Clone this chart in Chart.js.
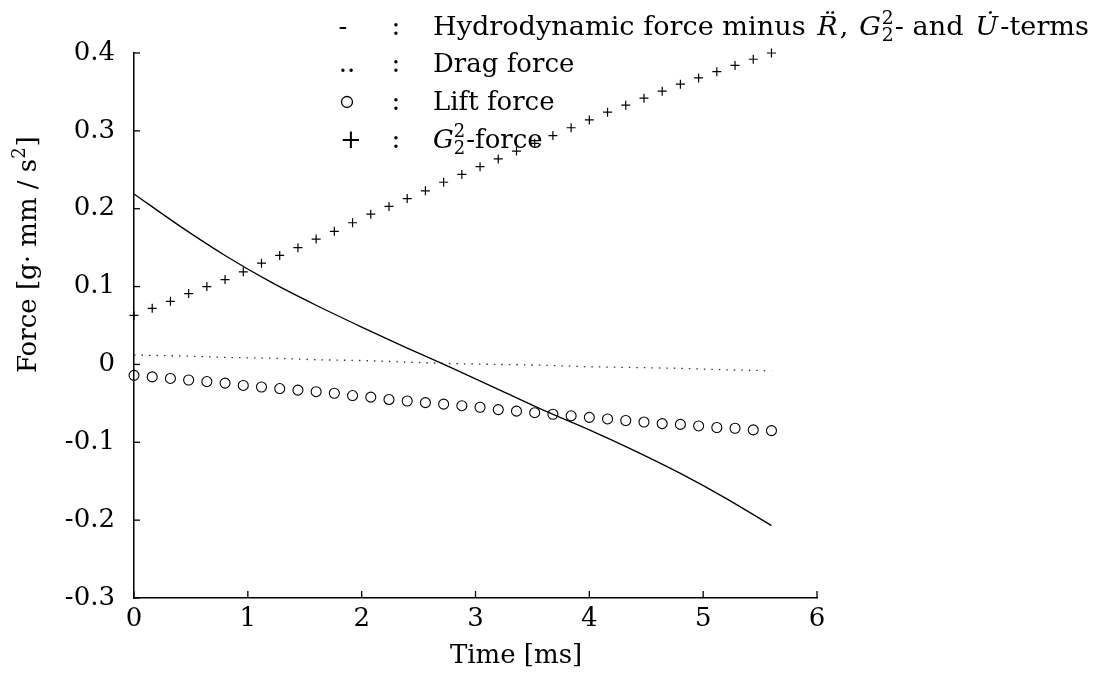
<!DOCTYPE html>
<html>
<head>
<meta charset="utf-8">
<script src="https://cdn.jsdelivr.net/npm/chart.js@4.4.1/dist/chart.umd.min.js"></script>
<style>
  body { margin: 0; background: #fff; }
  canvas { display: block; }
</style>
</head>
<body>
<canvas id="forceChart" width="1094" height="675"></canvas>
<script>
// time values of the marker series [ms]
const markerTime = [0, 0.16, 0.32, 0.48, 0.64, 0.8, 0.96, 1.12, 1.28, 1.44, 1.6, 1.76,
  1.92, 2.08, 2.24, 2.4, 2.56, 2.72, 2.88, 3.04, 3.2, 3.36, 3.52, 3.68,
  3.84, 4.0, 4.16, 4.32, 4.48, 4.64, 4.8, 4.96, 5.12, 5.28, 5.44, 5.6];

// lift force (circles)
const liftForce = [-0.014, -0.016, -0.018, -0.020, -0.022, -0.024, -0.027, -0.029, -0.031, -0.033, -0.035, -0.037,
  -0.040, -0.042, -0.045, -0.047, -0.049, -0.051, -0.053, -0.055, -0.058, -0.060, -0.062, -0.064,
  -0.066, -0.068, -0.070, -0.072, -0.074, -0.076, -0.077, -0.079, -0.081, -0.082, -0.084, -0.085];

// G2^2-force (plus signs)
const g22Force = [0.063, 0.072, 0.081, 0.091, 0.100, 0.109, 0.119, 0.130, 0.140, 0.150, 0.161, 0.171,
  0.182, 0.193, 0.203, 0.213, 0.223, 0.234, 0.244, 0.254, 0.264, 0.274, 0.284, 0.294,
  0.304, 0.314, 0.324, 0.333, 0.342, 0.351, 0.360, 0.368, 0.376, 0.384, 0.392, 0.400];

// time values of the two curves [ms]
const lineTime = [0, 0.4, 0.8, 1.2, 1.6, 2.0, 2.4, 2.8, 3.2, 3.6, 4.0, 4.4, 4.8, 5.2, 5.6];

// hydrodynamic force minus R, G2^2 and U terms (solid)
const hydroForce = [0.219, 0.178, 0.140, 0.106, 0.076, 0.048, 0.021, -0.005, -0.032, -0.059, -0.084, -0.111, -0.140, -0.172, -0.207];

// drag force (dotted)
const dragForce = [0.012, 0.011, 0.009, 0.008, 0.006, 0.005, 0.003, 0.001, 0.000, -0.001, -0.003, -0.004, -0.005, -0.007, -0.008];

const xTickValues = [0, 1, 2, 3, 4, 5, 6];
const xTickLabels = ["0", "1", "2", "3", "4", "5", "6"];
const yTickValues = [-0.3, -0.2, -0.1, 0, 0.1, 0.2, 0.3, 0.4];
const yTickLabels = ["-0.3", "-0.2", "-0.1", "0", "0.1", "0.2", "0.3", "0.4"];

const serif = "'DejaVu Serif', 'Liberation Serif', serif";

function toPoints(xs, ys) {
  return xs.map((x, i) => ({ x: x, y: ys[i] }));
}

// draws a row of text pieces, each with its own font; returns the end x
function drawRuns(ctx, x, y, runs, measureOnly) {
  runs.forEach((r) => {
    if (r.stack) {
      ctx.font = "18px " + serif;
      if (!measureOnly) {
        ctx.fillText(r.stack[0], x, y - 11);
        ctx.fillText(r.stack[1], x, y + 6);
      }
      x += ctx.measureText(r.stack[0]).width + 1;
    } else {
      ctx.font = (r.italic ? "italic " : "") + "26px " + serif;
      if (!measureOnly) ctx.fillText(r.text, x, y);
      x += ctx.measureText(r.text).width + (r.gap || 0);
    }
  });
  return x;
}

const extrasPlugin = {
  id: "extras",
  afterDraw(chart) {
    const ctx = chart.ctx;
    const xs = chart.scales.x;
    const ys = chart.scales.y;
    const area = chart.chartArea;
    ctx.save();
    ctx.strokeStyle = "#000";
    ctx.lineWidth = 1.3;
    // inward tick marks
    xTickValues.forEach((v) => {
      const px = xs.getPixelForValue(v);
      ctx.beginPath();
      ctx.moveTo(px, area.bottom);
      ctx.lineTo(px, area.bottom - 7);
      ctx.stroke();
    });
    yTickValues.forEach((v) => {
      const py = ys.getPixelForValue(v);
      ctx.beginPath();
      ctx.moveTo(area.left, py);
      ctx.lineTo(area.left + 6, py);
      ctx.stroke();
    });

    ctx.fillStyle = "#000";
    ctx.textBaseline = "alphabetic";

    // axis titles
    ctx.font = "26px " + serif;
    ctx.textAlign = "center";
    ctx.fillText("Time [ms]", 516, 663);
    ctx.save();
    ctx.translate(36, 373);
    ctx.rotate(-Math.PI / 2);
    ctx.textAlign = "left";
    drawRuns(ctx, 0, 0, [
      { text: "Force [g\u00B7 mm / s" },
      { stack: ["2", ""] },
      { text: "]" }
    ]);
    ctx.restore();

    // legend
    ctx.textAlign = "center";
    ctx.font = "26px " + serif;
    ctx.fillText("-", 343, 35);
    ctx.fillText("..", 347, 72);
    ctx.fillText("+", 351, 148);
    ctx.beginPath();
    ctx.lineWidth = 1.3;
    ctx.arc(347, 102, 5.5, 0, Math.PI * 2);
    ctx.stroke();
    [35, 72, 110, 148].forEach((y) => ctx.fillText(":", 396, y));

    ctx.textAlign = "left";
    const firstRow = [
      { text: "Hydrodynamic force minus ", gap: 3 },
      { text: "R\u0308", italic: true, gap: 2 },
      { text: ", ", gap: 2 },
      { text: "G", italic: true, gap: 1 },
      { stack: ["2", "2"] },
      { text: "- and ", gap: 3 },
      { text: "U\u0307", italic: true, gap: 2 },
      { text: "-terms" }
    ];
    // stretch the first row slightly so it spans like the original
    const rowWidth = drawRuns(ctx, 0, 0, firstRow, true);
    ctx.save();
    ctx.translate(433, 35);
    ctx.scale((1089 - 433) / rowWidth, 1);
    drawRuns(ctx, 0, 0, firstRow);
    ctx.restore();
    drawRuns(ctx, 433, 72, [{ text: "Drag force" }]);
    drawRuns(ctx, 433, 110, [{ text: "Lift force" }]);
    drawRuns(ctx, 433, 148, [
      { text: "G", italic: true },
      { stack: ["2", "2"] },
      { text: "-force" }
    ]);
    ctx.restore();
  }
};

new Chart(document.getElementById("forceChart"), {
  type: "scatter",
  data: {
    datasets: [
      {
        label: "Hydrodynamic force",
        data: toPoints(lineTime, hydroForce),
        showLine: true,
        borderColor: "#000",
        borderWidth: 1.3,
        pointRadius: 0,
        cubicInterpolationMode: "monotone",
        clip: false
      },
      {
        label: "Drag force",
        data: toPoints(lineTime, dragForce),
        showLine: true,
        borderColor: "#333",
        borderWidth: 1.3,
        borderDash: [1.5, 6],
        pointRadius: 0,
        clip: false
      },
      {
        label: "Lift force",
        data: toPoints(markerTime, liftForce),
        showLine: false,
        pointStyle: "circle",
        pointRadius: 5,
        borderColor: "#000",
        borderWidth: 1.1,
        backgroundColor: "rgba(0,0,0,0)",
        clip: false
      },
      {
        label: "G2-force",
        data: toPoints(markerTime, g22Force),
        showLine: false,
        pointStyle: "cross",
        pointRadius: 4.5,
        borderColor: "#000",
        borderWidth: 1.2,
        clip: false
      }
    ]
  },
  options: {
    responsive: false,
    animation: false,
    layout: { padding: { left: 0, top: 53, right: 277, bottom: 0 } },
    plugins: {
      legend: { display: false },
      tooltip: { enabled: false }
    },
    scales: {
      x: {
        type: "linear",
        min: 0,
        max: 6,
        afterFit: (s) => { s.height = 77; },
        afterBuildTicks: (s) => { s.ticks = xTickValues.map((v) => ({ value: v })); },
        grid: { drawOnChartArea: false, drawTicks: false },
        border: { display: true, color: "#000", width: 1.5 },
        ticks: {
          color: "#000",
          padding: 6,
          maxRotation: 0,
          font: { family: serif, size: 26 },
          callback: (v) => xTickLabels[xTickValues.indexOf(v)]
        }
      },
      y: {
        min: -0.3,
        max: 0.4,
        afterFit: (s) => { s.width = 134; },
        afterBuildTicks: (s) => { s.ticks = yTickValues.map((v) => ({ value: v })); },
        grid: { drawOnChartArea: false, drawTicks: false },
        border: { display: true, color: "#000", width: 1.5 },
        ticks: {
          color: "#000",
          padding: 19,
          font: { family: serif, size: 26 },
          callback: (v) => yTickLabels[yTickValues.indexOf(v)]
        }
      }
    }
  },
  plugins: [extrasPlugin]
});
</script>
</body>
</html>
